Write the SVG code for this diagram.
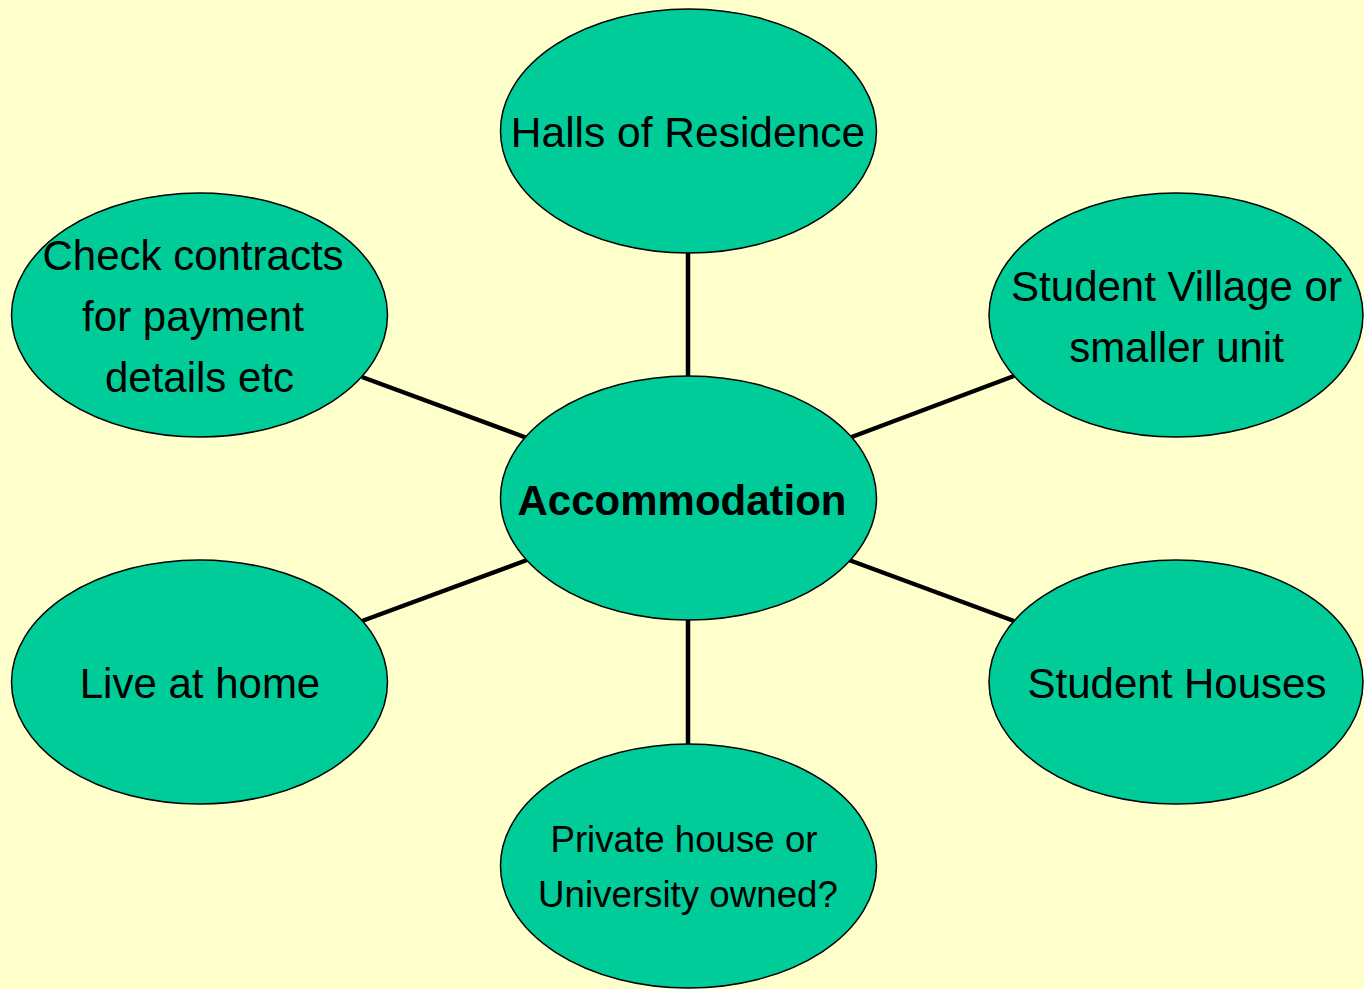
<svg xmlns="http://www.w3.org/2000/svg" width="1364" height="989" viewBox="0 0 1364 989">
<style>
.node{fill:#00CC99;stroke:#000;stroke-width:1.5}
.lbl{font-family:"Liberation Sans",Arial,sans-serif;font-size:42px;fill:#000;text-anchor:middle}
.conn line{stroke:#000;stroke-width:4.5}
</style>
<rect width="1364" height="989" fill="#FFFFCC"/>
<g class="conn" id="connectors">
<line x1="688" y1="252" x2="688" y2="377"/>
<line x1="688" y1="619" x2="688" y2="744"/>
<line x1="362" y1="377" x2="527" y2="438"/>
<line x1="849" y1="438" x2="1014" y2="376"/>
<line x1="527" y1="560" x2="362" y2="621"/>
<line x1="849" y1="560" x2="1014" y2="621"/>
</g>
<g id="center">
<ellipse class="node" cx="688.5" cy="498" rx="188" ry="122"/>
<text class="lbl" x="682" y="515" style="font-weight:bold">Accommodation</text>
</g>
<g id="halls">
<ellipse class="node" cx="688.5" cy="131" rx="188" ry="122"/>
<text class="lbl" x="688" y="147" style="font-size:42.5px">Halls of Residence</text>
</g>
<g id="check">
<ellipse class="node" cx="199.5" cy="315" rx="188" ry="122"/>
<text class="lbl" x="193" y="270">Check contracts</text>
<text class="lbl" x="193" y="331">for payment</text>
<text class="lbl" x="199.5" y="392">details etc</text>
</g>
<g id="village">
<ellipse class="node" cx="1176" cy="315" rx="187" ry="122"/>
<text class="lbl" x="1176.5" y="301">Student Village or</text>
<text class="lbl" x="1176.5" y="362">smaller unit</text>
</g>
<g id="home">
<ellipse class="node" cx="199.5" cy="682" rx="188" ry="122"/>
<text class="lbl" x="200" y="698">Live at home</text>
</g>
<g id="houses">
<ellipse class="node" cx="1176" cy="682" rx="187" ry="122"/>
<text class="lbl" x="1177" y="698">Student Houses</text>
</g>
<g id="private">
<ellipse class="node" cx="688.5" cy="866" rx="188" ry="122"/>
<text class="lbl" x="684" y="852" style="font-size:36.7px">Private house or</text>
<text class="lbl" x="688" y="907" style="font-size:36.7px">University owned?</text>
</g>
</svg>
